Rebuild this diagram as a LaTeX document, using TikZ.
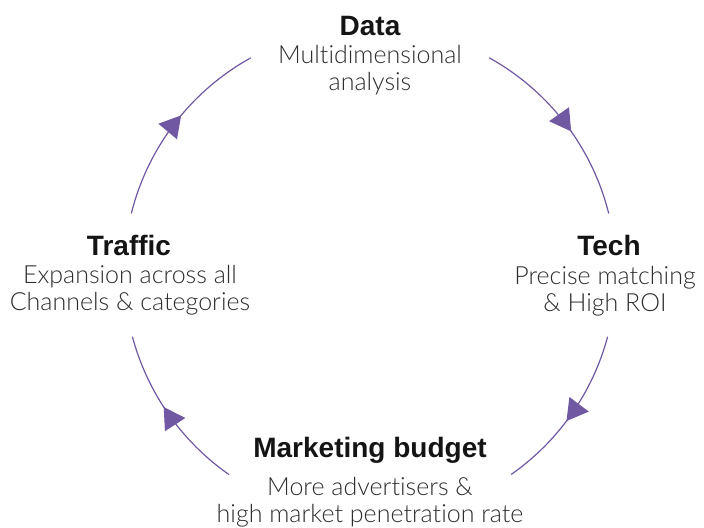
\documentclass[tikz,border=0pt]{standalone}
\usepackage{fontspec}
\setmainfont{Liberation Sans}
\newfontfamily\lightfont{Lato Light}[Ligatures={NoCommon}]
\usepackage{tikz}
\usetikzlibrary{arrows.meta}
\usetikzlibrary{decorations.markings}
\usetikzlibrary{calc}
\definecolor{cyclepurple}{RGB}{112,88,163}
\definecolor{subgray}{RGB}{45,45,45}
\tikzset{head/.style={font=\fontsize{14}{14}\selectfont\bfseries, text=black!92, inner sep=0pt, anchor=base}}
\tikzset{sub/.style={font=\fontsize{12.5}{13.5}\selectfont\lightfont, text=subgray, inner sep=0pt, anchor=base, align=center}}
\tikzset{flow/.style={draw=cyclepurple, line width=0.6pt, postaction={decorate},
  decoration={markings, mark=at position 0.55 with {\arrow{Triangle[width=12pt,length=10.5pt]}}}}}

\begin{document}
\begin{tikzpicture}[x=0.5pt,y=-0.5pt]
  \useasboundingbox (0,0) rectangle (704,527);
  \coordinate (c) at (370,273);
  % labels
  \node[head] (data) at (370,35) {Data};
  \node[sub] (datatxt) at (370,90) {Multidimensional\\analysis};
  \node[head] (tech) at (609,255) {Tech};
  \node[sub] (techtxt) at (605,311) {Precise matching\\\& High ROI};
  \node[head] (budget) at (370,457) {Marketing budget};
  \node[sub] (budgettxt) at (370,522) {More advertisers \&\\high market penetration rate};
  \node[head] (traffic) at (129,255) {Traffic};
  \node[sub] (traffictxt) at (130,310) {Expansion across all\\Channels \& categories};
  % cycle
  \draw[flow] ($(c)+(61:123pt)$) arc[start angle=61, end angle=14, radius=123pt];
  \draw[flow] ($(c)+(-15:123pt)$) arc[start angle=-15, end angle=-55, radius=123pt];
  \draw[flow] ($(c)+(235:123pt)$) arc[start angle=235, end angle=195, radius=123pt];
  \draw[flow] ($(c)+(166:123pt)$) arc[start angle=166, end angle=119, radius=123pt];
\end{tikzpicture}
\end{document}
